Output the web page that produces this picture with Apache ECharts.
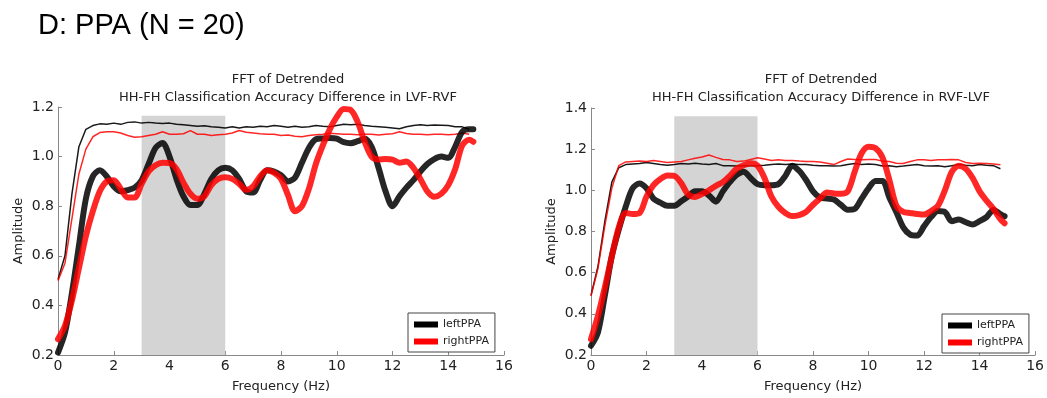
<!DOCTYPE html>
<html>
<head>
<meta charset="utf-8">
<script src="https://cdn.jsdelivr.net/npm/echarts@6/dist/echarts.min.js"></script>
<style>
  html, body { margin: 0; padding: 0; background: #fff; }
  #main { width: 1047px; height: 398px; }
</style>
</head>
<body>
<div id="main"></div>
<script>
// frequency (Hz)
var freq = [0, 0.25, 0.5, 0.75, 1, 1.25, 1.5, 1.75, 2, 2.25, 2.5, 2.75, 3, 3.25, 3.5, 3.75, 4, 4.25, 4.5, 4.75,
    5, 5.25, 5.5, 5.75, 6, 6.25, 6.5, 6.75, 7, 7.25, 7.5, 7.75, 8, 8.25, 8.5, 8.75, 9, 9.25, 9.5, 9.75,
    10, 10.25, 10.5, 10.75, 11, 11.25, 11.5, 11.75, 12, 12.25, 12.5, 12.75, 13, 13.25, 13.5, 13.75, 14, 14.25, 14.5, 14.75, 14.9];

// LVF-RVF panel
var lvfLeftPPA = [0.21, 0.29, 0.45, 0.64, 0.83, 0.92, 0.945, 0.92, 0.88, 0.86, 0.865, 0.875, 0.905, 0.97, 1.035, 1.055, 1.0, 0.91, 0.84, 0.805,
    0.805, 0.85, 0.91, 0.945, 0.955, 0.945, 0.91, 0.86, 0.855, 0.905, 0.945, 0.94, 0.925, 0.9, 0.915, 0.975, 1.035, 1.07, 1.073, 1.075,
    1.072, 1.058, 1.054, 1.062, 1.072, 1.04, 0.955, 0.86, 0.8, 0.84, 0.875, 0.905, 0.94, 0.97, 0.99, 1.0, 0.995, 1.04, 1.1, 1.11, 1.11];
var lvfRightPPA = [0.264, 0.318, 0.42, 0.55, 0.68, 0.78, 0.86, 0.9, 0.905, 0.87, 0.835, 0.835, 0.89, 0.94, 0.965, 0.975, 0.974, 0.95, 0.895, 0.85,
    0.83, 0.84, 0.885, 0.91, 0.917, 0.91, 0.89, 0.866, 0.88, 0.92, 0.945, 0.935, 0.91, 0.845, 0.78, 0.8, 0.87, 0.97, 1.045, 1.11,
    1.16, 1.192, 1.188, 1.14, 1.06, 1.0, 0.988, 0.99, 0.988, 0.975, 0.98, 0.955, 0.91, 0.86, 0.838, 0.85, 0.885, 0.95, 1.045, 1.068, 1.06];
var lvfLeftThin = [0.505, 0.6, 0.85, 1.04, 1.11, 1.125, 1.132, 1.13, 1.135, 1.13, 1.138, 1.14, 1.135, 1.138, 1.135, 1.133, 1.135, 1.13, 1.128, 1.125,
    1.122, 1.124, 1.12, 1.118, 1.115, 1.12, 1.115, 1.12, 1.118, 1.122, 1.12, 1.125, 1.122, 1.118, 1.122, 1.118, 1.12, 1.125, 1.122, 1.12,
    1.125, 1.13, 1.128, 1.13, 1.125, 1.122, 1.12, 1.118, 1.115, 1.112, 1.12, 1.125, 1.128, 1.125, 1.127, 1.126, 1.125, 1.12, 1.12, 1.11, null];
var lvfRightThin = [0.5, 0.57, 0.75, 0.93, 1.03, 1.08, 1.097, 1.1, 1.1, 1.095, 1.085, 1.078, 1.08, 1.085, 1.09, 1.1, 1.09, 1.09, 1.092, 1.105,
    1.09, 1.09, 1.085, 1.088, 1.09, 1.095, 1.105, 1.098, 1.095, 1.092, 1.09, 1.09, 1.085, 1.087, 1.082, 1.08, 1.085, 1.088, 1.09, 1.094,
    1.092, 1.09, 1.09, 1.088, 1.09, 1.09, 1.087, 1.09, 1.092, 1.1, 1.093, 1.09, 1.09, 1.088, 1.09, 1.09, 1.088, 1.09, 1.095, 1.09, null];

// RVF-LVF panel
var rvfLeftPPA = [0.245, 0.31, 0.49, 0.68, 0.81, 0.92, 1.01, 1.033, 1.01, 0.96, 0.94, 0.925, 0.925, 0.947, 0.97, 0.995, 0.995, 0.975, 0.945, 0.995,
    1.04, 1.075, 1.09, 1.06, 1.03, 1.025, 1.025, 1.03, 1.07, 1.12, 1.095, 1.05, 0.995, 0.965, 0.96, 0.955, 0.93, 0.906, 0.91, 0.96,
    1.01, 1.045, 1.045, 0.965, 0.895, 0.82, 0.785, 0.78, 0.826, 0.87, 0.9, 0.895, 0.85, 0.858, 0.845, 0.834, 0.85, 0.87, 0.905, 0.885, 0.874];
var rvfRightPPA = [0.277, 0.39, 0.53, 0.68, 0.82, 0.89, 0.885, 0.89, 0.97, 1.025, 1.055, 1.072, 1.07, 1.035, 0.98, 0.968, 0.982, 1.0, 1.022, 1.04,
    1.07, 1.105, 1.122, 1.132, 1.12, 1.06, 0.97, 0.92, 0.89, 0.875, 0.88, 0.895, 0.93, 0.96, 0.99, 0.985, 0.984, 0.995, 1.09, 1.18,
    1.212, 1.205, 1.16, 1.05, 0.925, 0.895, 0.89, 0.885, 0.882, 0.9, 0.925, 1.0, 1.09, 1.12, 1.105, 1.06, 0.995, 0.95, 0.91, 0.86, 0.84];
var rvfLeftThin = [0.49, 0.63, 0.85, 1.04, 1.11, 1.125, 1.128, 1.13, 1.135, 1.13, 1.125, 1.122, 1.125, 1.13, 1.128, 1.132, 1.128, 1.125, 1.13, 1.12,
    1.12, 1.118, 1.12, 1.12, 1.12, 1.122, 1.125, 1.128, 1.125, 1.128, 1.125, 1.125, 1.122, 1.12, 1.12, 1.118, 1.12, 1.125, 1.13, 1.125,
    1.128, 1.125, 1.118, 1.12, 1.115, 1.118, 1.122, 1.125, 1.12, 1.118, 1.12, 1.115, 1.12, 1.125, 1.122, 1.12, 1.125, 1.122, 1.12, 1.105, null];
var rvfRightThin = [0.487, 0.62, 0.83, 1.01, 1.12, 1.138, 1.14, 1.142, 1.14, 1.145, 1.14, 1.135, 1.138, 1.14, 1.148, 1.156, 1.162, 1.172, 1.16, 1.15,
    1.148, 1.14, 1.142, 1.15, 1.158, 1.152, 1.145, 1.148, 1.145, 1.145, 1.142, 1.14, 1.14, 1.138, 1.132, 1.125, 1.14, 1.152, 1.15, 1.148,
    1.15, 1.15, 1.142, 1.14, 1.132, 1.13, 1.14, 1.148, 1.148, 1.145, 1.148, 1.148, 1.15, 1.148, 1.135, 1.13, 1.132, 1.13, 1.128, 1.124, null];

var xTicks = [0, 16, 2];       // min, max, interval
var lvfYTicks = [0.2, 1.2, 0.2];
var rvfYTicks = [0.2, 1.4, 0.2];
var band = [3, 6];             // shaded window (Hz)
var bandTop = [1.165, 1.36];

var panelTitles = [
    'FFT of Detrended\nHH-FH Classification Accuracy Difference in LVF-RVF',
    'FFT of Detrended\nHH-FH Classification Accuracy Difference in RVF-LVF'
];

function pairs(vals) {
    var out = [];
    for (var i = 0; i < freq.length; i++) {
        if (vals[i] != null) out.push([freq[i], vals[i]]);
    }
    return out;
}

var font = 'DejaVu Sans';

function xAxisFor(idx) {
    return {
        gridIndex: idx, type: 'value', min: xTicks[0], max: xTicks[1], interval: xTicks[2],
        name: 'Frequency (Hz)', nameLocation: 'middle', nameGap: 25,
        nameTextStyle: { fontFamily: font, fontSize: 13, color: '#222' },
        axisLine: { lineStyle: { color: '#888', width: 1 } },
        axisTick: { inside: true, length: 4, lineStyle: { color: '#888' } },
        axisLabel: { fontFamily: font, fontSize: 14, color: '#222', margin: 4 },
        splitLine: { show: false }
    };
}
function yAxisFor(idx, t) {
    return {
        gridIndex: idx, type: 'value', min: t[0], max: t[1], interval: t[2],
        name: 'Amplitude', nameLocation: 'middle', nameGap: 33, nameRotate: 90,
        nameTextStyle: { fontFamily: font, fontSize: 13, color: '#222' },
        axisLine: { show: true, lineStyle: { color: '#888', width: 1 } },
        axisTick: { show: true, inside: true, length: 4, lineStyle: { color: '#888' } },
        axisLabel: { fontFamily: font, fontSize: 14, color: '#222', margin: 4,
            formatter: function (v) { return v.toFixed(1); } },
        splitLine: { show: false }
    };
}

function panelSeries(idx, top, leftThin, rightThin, leftPPA, rightPPA) {
    return [
        { type: 'line', xAxisIndex: idx, yAxisIndex: idx, data: [], z: 1, silent: true,
          markArea: { silent: true, itemStyle: { color: '#d4d4d4' },
              data: [[{ xAxis: band[0], yAxis: 0.2 }, { xAxis: band[1], yAxis: top }]] } },
        { type: 'line', xAxisIndex: idx, yAxisIndex: idx, data: pairs(leftThin), showSymbol: false, z: 2,
          lineStyle: { color: '#000', width: 1.5, opacity: 0.9 } },
        { type: 'line', xAxisIndex: idx, yAxisIndex: idx, data: pairs(rightThin), showSymbol: false, z: 3,
          lineStyle: { color: '#f00', width: 1.5, opacity: 0.85 } },
        { name: 'leftPPA', type: 'line', xAxisIndex: idx, yAxisIndex: idx, data: pairs(leftPPA), showSymbol: false,
          smooth: 0.3, z: 4, itemStyle: { color: '#000' },
          lineStyle: { color: '#000', width: 6, opacity: 0.85, cap: 'round', join: 'round' } },
        { name: 'rightPPA', type: 'line', xAxisIndex: idx, yAxisIndex: idx, data: pairs(rightPPA), showSymbol: false,
          smooth: 0.3, z: 5, itemStyle: { color: '#f00' },
          lineStyle: { color: '#f00', width: 6, opacity: 0.85, cap: 'round', join: 'round' } }
    ];
}

function legendAt(left, top) {
    return {
        orient: 'vertical', left: left, top: top, data: ['leftPPA', 'rightPPA'],
        icon: 'rect', itemWidth: 24, itemHeight: 6, itemGap: 6,
        padding: [6, 6, 5, 6], borderColor: '#444', borderWidth: 1, borderRadius: 0,
        backgroundColor: '#fff', selectedMode: false,
        textStyle: { fontFamily: font, fontSize: 11, color: '#222' }
    };
}

var myChart = echarts.init(document.getElementById('main'));
var option = {
    animation: false,
    backgroundColor: '#fff',
    title: [
        { text: 'D: PPA (N = 20)', left: 33, top: 6,
          textStyle: { fontFamily: 'Liberation Sans', fontSize: 29, fontWeight: 'normal', color: '#000' } },
        { text: panelTitles[0], left: 283, top: 66, textAlign: 'center',
          textStyle: { fontFamily: font, fontSize: 13, fontWeight: 'normal', color: '#222', lineHeight: 18 } },
        { text: panelTitles[1], left: 816, top: 66, textAlign: 'center',
          textStyle: { fontFamily: font, fontSize: 13, fontWeight: 'normal', color: '#222', lineHeight: 18 } }
    ],
    legend: [legendAt(408, 313), legendAt(942, 314)],
    grid: [
        { left: 58, right: 543, top: 107, bottom: 42 },
        { left: 591, right: 11, top: 108, bottom: 42 }
    ],
    xAxis: [xAxisFor(0), xAxisFor(1)],
    yAxis: [yAxisFor(0, lvfYTicks), yAxisFor(1, rvfYTicks)],
    series: panelSeries(0, bandTop[0], lvfLeftThin, lvfRightThin, lvfLeftPPA, lvfRightPPA)
        .concat(panelSeries(1, bandTop[1], rvfLeftThin, rvfRightThin, rvfLeftPPA, rvfRightPPA))
};
myChart.setOption(option);
</script>
</body>
</html>
